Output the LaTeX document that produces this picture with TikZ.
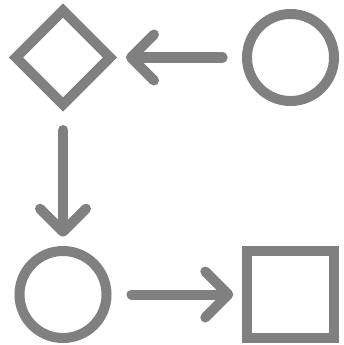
\documentclass[tikz,border=0pt]{standalone}
\usetikzlibrary{shapes.geometric,arrows.meta}
\definecolor{ink}{RGB}{128,128,128}
\begin{document}
\begin{tikzpicture}[x=1pt,y=-1pt,
  shp/.style={draw=ink,line width=10pt,inner sep=0pt,outer sep=0pt},
  circ/.style={shp,circle,minimum size=87pt},
  dia/.style={shp,diamond,minimum width=94pt,minimum height=94pt,miter limit=10},
  sq/.style={shp,rectangle,minimum size=87pt,line join=miter},
  arr/.style={draw=ink,line width=10pt,line cap=round,
    -{Straight Barb[length=23pt,width=46pt,round]}}]
\useasboundingbox (0,0) rectangle (343,345);
\node[dia] (d) at (63,57.5) {};
\node[circ] (c1) at (290.5,57.5) {};
\node[circ] (c2) at (63,294.5) {};
\node[sq] (s) at (290.5,294.5) {};
\draw[arr,shorten <=67.8pt,shorten >=63pt] (c1.center) -- (d.center);
\draw[arr,shorten <=72.5pt,shorten >=57.8pt] (d.center) -- (c2.center);
\draw[arr,shorten <=68.5pt,shorten >=57.2pt] (c2.center) -- (s.center);
\end{tikzpicture}
\end{document}
